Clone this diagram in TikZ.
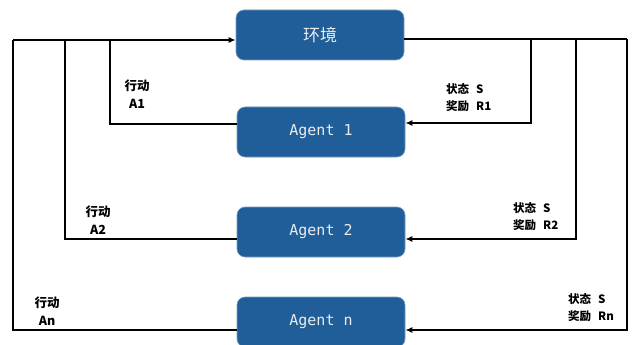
\documentclass[tikz,border=0pt]{standalone}
\usepackage{fontspec}
\usetikzlibrary{arrows.meta}
\newfontfamily\cjk{Noto Sans CJK SC}
\newfontfamily\monofnt{DejaVu Sans Mono}
\definecolor{boxblue}{RGB}{31,94,153}
\begin{document}
\begin{tikzpicture}[x=1pt,y=-1pt,
  block/.style={draw=boxblue!60!white,line width=0.6pt,fill=boxblue,rounded corners=8pt,
    minimum width=168pt,minimum height=50pt,text=white!92!black,inner sep=0pt},
  agentfont/.style={font=\monofnt\fontsize{15}{18}\selectfont},
  wire/.style={line width=2pt,draw=black},
  tip/.style={-{Latex[length=7pt,width=6pt]}},
  lbl/.style={font=\cjk\bfseries\fontsize{12.5}{18}\selectfont,inner sep=0pt,align=center},
  lbll/.style={font=\cjk\bfseries\fontsize{11.5}{17}\selectfont,inner sep=0pt,align=left,anchor=west}]
\useasboundingbox (0,0) rectangle (635,345);
\fill[white] (0,0) rectangle (635,345);

% environment and agents
\node[block,font=\cjk\fontsize{17}{20}\selectfont] (env) at (320,35) {环境};
\node[block,agentfont] (ag1) at (321,132) {Agent 1};
\node[block,agentfont] (ag2) at (321,232) {Agent 2};
\node[block,agentfont] (agn) at (321,322) {Agent n};

% action bus on the left
\coordinate (busL) at (13,40);
\coordinate (bus1) at (110,40);
\coordinate (bus2) at (65,40);
\draw[wire,tip] (busL) -- ([yshift=-5pt]env.west);
\draw[wire] ([yshift=8pt]ag1.west) -| (bus1);
\draw[wire] ([yshift=-7pt]ag2.west) -| (bus2);
\draw[wire] ([yshift=-8pt]agn.west) -| (busL);

% state / reward bus on the right
\coordinate (busR) at (627,39);
\coordinate (sb1) at (531,39);
\coordinate (sb2) at (576,39);
\draw[wire] ([yshift=-4pt]env.east) -- (busR);
\draw[wire,tip] (sb1) |- ([yshift=9pt]ag1.east);
\draw[wire,tip] (sb2) |- ([yshift=-7pt]ag2.east);
\draw[wire,tip] (busR) |- ([yshift=-8pt]agn.east);

% labels
\node[lbl] (a1) at (137,94) {行动\\A1};
\node[lbl] (a2) at (98,220) {行动\\A2};
\node[lbl] (an) at (47,311) {行动\\An};
\node[lbll] (r1) at (446,98) {状态\hspace{7pt}S\\奖励\hspace{7pt}R1};
\node[lbll] (r2) at (513,217) {状态\hspace{7pt}S\\奖励\hspace{7pt}R2};
\node[lbll] (rn) at (568,308) {状态\hspace{7pt}S\\奖励\hspace{7pt}Rn};
\end{tikzpicture}
\end{document}
